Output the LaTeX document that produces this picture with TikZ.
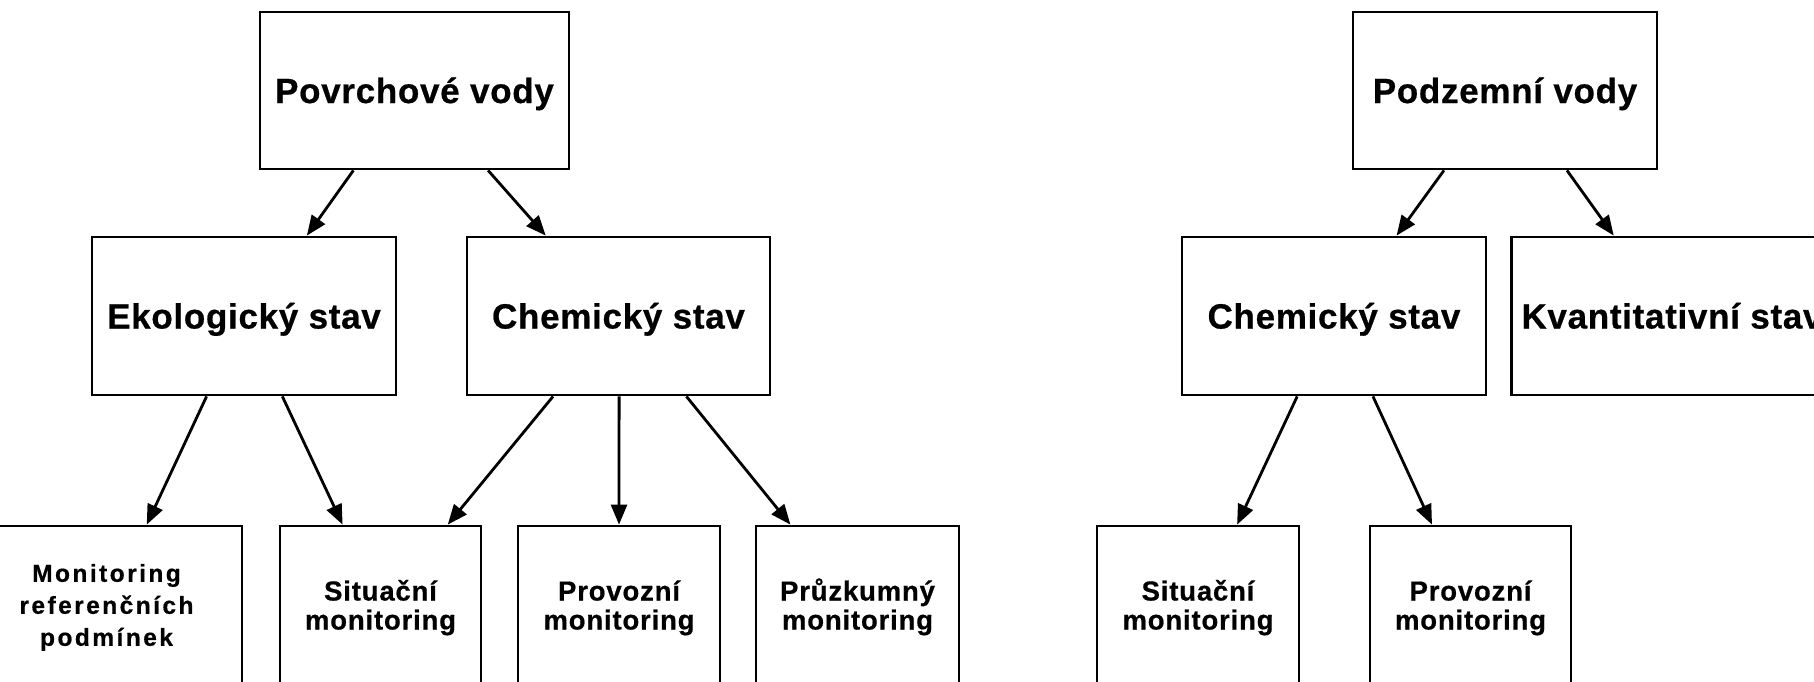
\documentclass[tikz,border=0pt]{standalone}
\usepackage{fontspec}
\setmainfont{Liberation Sans}
\newfontfamily\bigfont[LetterSpace=2,FakeBold=0.6]{Liberation Sans}
\newfontfamily\smallfont[LetterSpace=3,FakeBold=0.6]{Liberation Sans}
\newfontfamily\widefont[LetterSpace=10,FakeBold=0.6]{Liberation Sans}
\usetikzlibrary{arrows.meta,calc}
\begin{document}
\begin{tikzpicture}[x=1pt,y=-1pt,line width=2.8pt,
  box/.style={draw=black,rectangle,inner sep=0pt,align=center,line join=miter},
  toplbl/.style={box,minimum height=157pt,font=\bigfont\bfseries\fontsize{35pt}{40pt}\selectfont,text height=25pt,text depth=0pt},
  botlbl/.style={box,minimum height=158pt,font=\smallfont\bfseries\fontsize{27.5pt}{29pt}\selectfont,text height=49pt,text depth=0pt},
  reflbl/.style={box,minimum height=158pt,font=\widefont\bfseries\fontsize{24.5pt}{32pt}\selectfont,text height=81.5pt,text depth=0pt},
  arr/.style={-{Triangle[length=20pt,width=16pt]},line width=2.8pt}]
\useasboundingbox (0,0) rectangle (1814,681);
\fill[white] (0,0) rectangle (1814,681);
\clip (0,0) rectangle (1814,681);
% left tree
\node[toplbl,minimum width=309pt] (pov) at (414.5,90.5) {Povrchové vody};
\node[toplbl,minimum width=304pt,minimum height=158pt] (eko) at (244,316) {Ekologický stav};
\node[toplbl,minimum width=303pt,minimum height=158pt] (chemL) at (618.5,316) {Chemický stav};
\node[reflbl,minimum width=271pt] (mon) at (106.5,605) {Monitoring\\referenčních\\podmínek};
\node[botlbl,minimum width=201pt] (sitL) at (380.5,605) {Situační\\monitoring};
\node[botlbl,minimum width=202pt] (provL) at (619,605) {Provozní\\monitoring};
\node[botlbl,minimum width=203pt] (pruz) at (857.5,605) {Průzkumný\\monitoring};
% right tree
\node[toplbl,minimum width=304pt] (podz) at (1505,90.5) {Podzemní vody};
\node[toplbl,minimum width=304pt,minimum height=158pt] (chemR) at (1334,316) {Chemický stav};
\node[toplbl,minimum width=321pt,minimum height=158pt] (kvant) at (1672,316) {Kvantitativní stav};
\node[botlbl,minimum width=202pt] (sitR) at (1198,605) {Situační\\monitoring};
\node[botlbl,minimum width=201pt] (provR) at (1470.5,605) {Provozní\\monitoring};
% connectors
\draw[arr] ($(pov.south west)!0.304!(pov.south east)$) -- ($(eko.north west)!0.705!(eko.north east)$);
\draw[arr] ($(pov.south west)!0.736!(pov.south east)$) -- ($(chemL.north west)!0.262!(chemL.north east)$);
\draw[arr] ($(eko.south west)!0.378!(eko.south east)$) -- ($(mon.north west)!0.647!(mon.north east)$);
\draw[arr] ($(eko.south west)!0.625!(eko.south east)$) -- ($(sitL.north west)!0.314!(sitL.north east)$);
\draw[arr] ($(chemL.south west)!0.286!(chemL.south east)$) -- ($(sitL.north west)!0.830!(sitL.north east)$);
\draw[arr] ($(chemL.south west)!0.502!(chemL.south east)$) -- ($(provL.north west)!0.5!(provL.north east)$);
\draw[arr] ($(chemL.south west)!0.722!(chemL.south east)$) -- ($(pruz.north west)!0.174!(pruz.north east)$);
\draw[arr] ($(podz.south west)!0.301!(podz.south east)$) -- ($(chemR.north west)!0.704!(chemR.north east)$);
\draw[arr] ($(podz.south west)!0.702!(podz.south east)$) -- ($(kvant.north west)!0.32!(kvant.north east)$);
\draw[arr] ($(chemR.south west)!0.38!(chemR.south east)$) -- ($(sitR.north west)!0.691!(sitR.north east)$);
\draw[arr] ($(chemR.south west)!0.627!(chemR.south east)$) -- ($(provR.north west)!0.311!(provR.north east)$);
\end{tikzpicture}
\end{document}
